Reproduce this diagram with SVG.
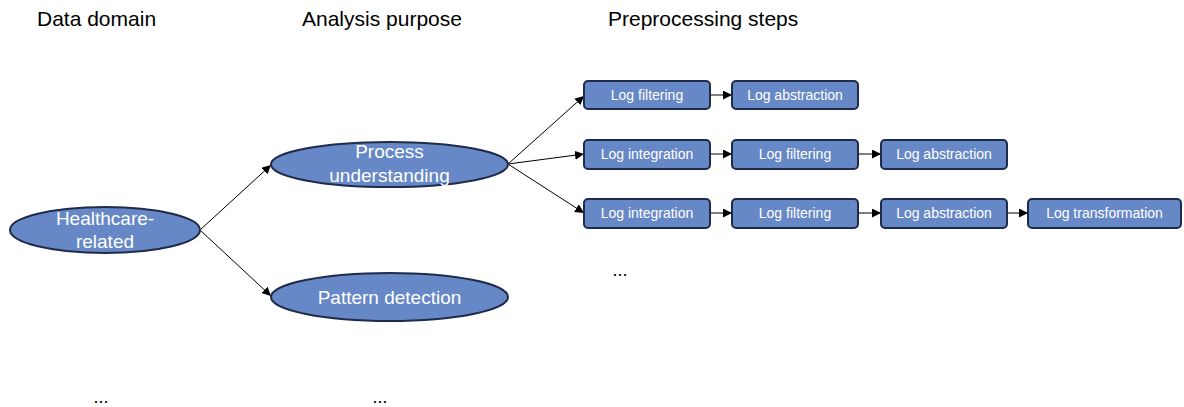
<svg xmlns="http://www.w3.org/2000/svg" width="1184" height="407" viewBox="0 0 1184 407">
  <defs>
    <marker id="arrow" viewBox="0 0 10 10" refX="10" refY="5" markerWidth="9" markerHeight="9" markerUnits="userSpaceOnUse" orient="auto">
      <path d="M0,0 L10,5 L0,10 z" fill="#000"/>
    </marker>
    <style>
      .hdr { font-family: "Liberation Sans", Arial, sans-serif; font-size: 21px; fill: #000; }
      .dots { font-family: "Liberation Sans", Arial, sans-serif; font-size: 18px; fill: #000; text-anchor: middle; }
      .ell { fill: #6788C6; stroke: #1F2B4A; stroke-width: 2; }
      .box { fill: #6788C6; stroke: #1F2B4A; stroke-width: 2; }
      .elabel { font-family: "Liberation Sans", Arial, sans-serif; font-size: 19px; fill: #fff; text-anchor: middle; }
      .blabel { font-family: "Liberation Sans", Arial, sans-serif; font-size: 14px; fill: #fff; text-anchor: middle; }
      .conn { stroke: #000; stroke-width: 1; fill: none; marker-end: url(#arrow); }
    </style>
  </defs>

  <!-- column headers -->
  <text class="hdr" x="37" y="26">Data domain</text>
  <text class="hdr" x="302" y="26">Analysis purpose</text>
  <text class="hdr" x="608" y="26">Preprocessing steps</text>

  <!-- connectors -->
  <g id="connectors">
    <line class="conn" x1="200" y1="230" x2="271" y2="165"/>
    <line class="conn" x1="200" y1="230" x2="271" y2="296"/>
    <line class="conn" x1="508" y1="164" x2="584" y2="96"/>
    <line class="conn" x1="508" y1="164" x2="584" y2="154"/>
    <line class="conn" x1="508" y1="164" x2="584" y2="213"/>
    <line class="conn" x1="710" y1="95" x2="732" y2="95"/>
    <line class="conn" x1="710" y1="154" x2="732" y2="154"/>
    <line class="conn" x1="858" y1="154" x2="881" y2="154"/>
    <line class="conn" x1="710" y1="213" x2="732" y2="213"/>
    <line class="conn" x1="858" y1="213" x2="881" y2="213"/>
    <line class="conn" x1="1007" y1="213" x2="1028" y2="213"/>
  </g>

  <!-- data domain -->
  <g id="healthcare">
    <ellipse class="ell" cx="105" cy="230" rx="95" ry="23"/>
    <text class="elabel" x="105" y="225">Healthcare-</text>
    <text class="elabel" x="105" y="248">related</text>
  </g>

  <!-- analysis purposes -->
  <g id="process-understanding">
    <ellipse class="ell" cx="389.5" cy="164.5" rx="118.5" ry="22.5"/>
    <text class="elabel" x="389.5" y="158">Process</text>
    <text class="elabel" x="389.5" y="182">understanding</text>
  </g>
  <g id="pattern-detection">
    <ellipse class="ell" cx="389.5" cy="297" rx="118.5" ry="24"/>
    <text class="elabel" x="389.5" y="304">Pattern detection</text>
  </g>

  <!-- preprocessing chain 1 -->
  <g id="r1-filtering">
    <rect class="box" x="584" y="81" width="126" height="28" rx="4"/>
    <text class="blabel" x="647" y="100">Log filtering</text>
  </g>
  <g id="r1-abstraction">
    <rect class="box" x="732" y="81" width="126" height="28" rx="4"/>
    <text class="blabel" x="795" y="100">Log abstraction</text>
  </g>

  <!-- preprocessing chain 2 -->
  <g id="r2-integration">
    <rect class="box" x="584" y="140" width="126" height="29" rx="4"/>
    <text class="blabel" x="647" y="159">Log integration</text>
  </g>
  <g id="r2-filtering">
    <rect class="box" x="732" y="140" width="126" height="29" rx="4"/>
    <text class="blabel" x="795" y="159">Log filtering</text>
  </g>
  <g id="r2-abstraction">
    <rect class="box" x="881" y="140" width="126" height="29" rx="4"/>
    <text class="blabel" x="944" y="159">Log abstraction</text>
  </g>

  <!-- preprocessing chain 3 -->
  <g id="r3-integration">
    <rect class="box" x="584" y="199" width="126" height="29" rx="4"/>
    <text class="blabel" x="647" y="218">Log integration</text>
  </g>
  <g id="r3-filtering">
    <rect class="box" x="732" y="199" width="126" height="29" rx="4"/>
    <text class="blabel" x="795" y="218">Log filtering</text>
  </g>
  <g id="r3-abstraction">
    <rect class="box" x="881" y="199" width="126" height="29" rx="4"/>
    <text class="blabel" x="944" y="218">Log abstraction</text>
  </g>
  <g id="r3-transformation">
    <rect class="box" x="1028" y="199" width="153" height="29" rx="4"/>
    <text class="blabel" x="1104.5" y="218">Log transformation</text>
  </g>

  <!-- continuation marks -->
  <text class="dots" x="620" y="276">...</text>
  <text class="dots" x="101" y="403">...</text>
  <text class="dots" x="380" y="403">...</text>
</svg>
